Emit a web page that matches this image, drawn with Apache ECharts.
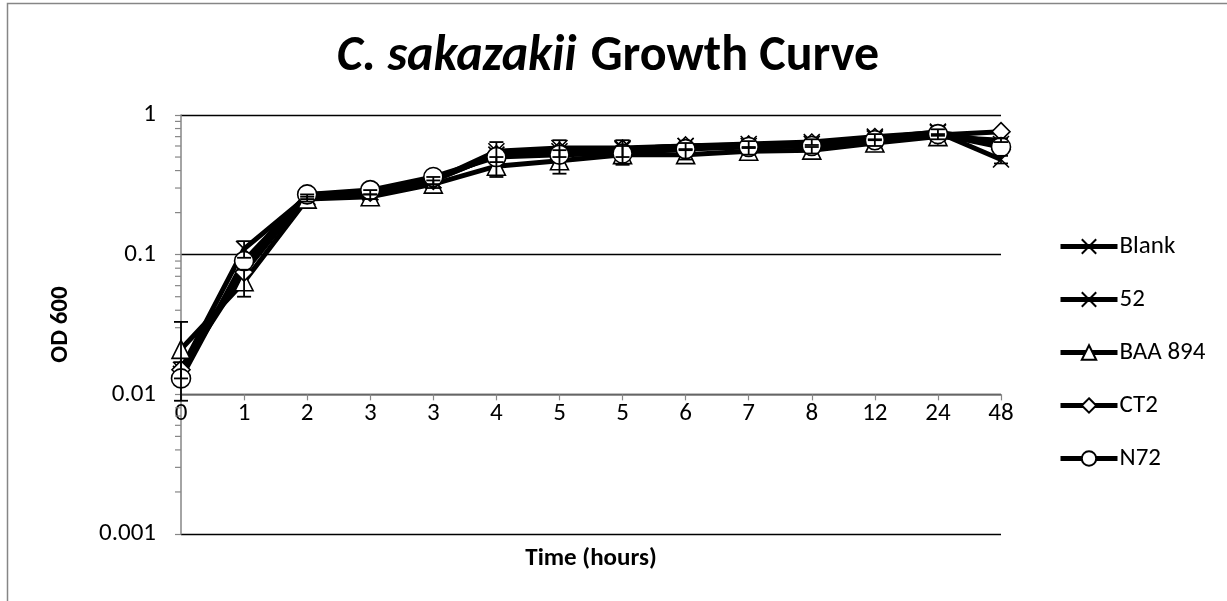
<!DOCTYPE html>
<html>
<head>
<meta charset="utf-8">
<script src="https://cdn.jsdelivr.net/npm/echarts@6/dist/echarts.min.js"></script>
<style>
  html, body { margin: 0; padding: 0; background: #fff; overflow: hidden; }
  #chart { width: 1227px; height: 601px; }
</style>
</head>
<body>
<div id="chart"></div>
<script>
// ---- data ----
const categories = ['0', '1', '2', '3', '3', '4', '5', '5', '6', '7', '8', '12', '24', '48'];
const blank  = [0.015, 0.110, 0.26, 0.28, 0.34, 0.55, 0.58, 0.58, 0.60, 0.62, 0.64, 0.70, 0.75, 0.48];
const s52    = [0.014, 0.085, 0.26, 0.28, 0.34, 0.52, 0.55, 0.57, 0.60, 0.60, 0.62, 0.68, 0.76, 0.62];
const baa894 = [0.021, 0.064, 0.25, 0.26, 0.32, 0.43, 0.47, 0.52, 0.52, 0.55, 0.56, 0.63, 0.70, 0.66];
const ct2    = [0.015, 0.075, 0.27, 0.28, 0.34, 0.52, 0.55, 0.57, 0.60, 0.61, 0.63, 0.69, 0.72, 0.76];
const n72    = [0.013, 0.090, 0.27, 0.29, 0.36, 0.50, 0.52, 0.53, 0.57, 0.59, 0.60, 0.66, 0.73, 0.59];
const blankErr  = [0.002, 0.015, 0.010, 0.010, 0.020, 0.09, 0.08, 0.08, 0.03, 0.03, 0.03, 0.03, 0.04, 0.03];
const baa894Err = [0.012, 0.014, 0.010, 0.010, 0.020, 0.07, 0.09, 0.08, 0.04, 0.03, 0.03, 0.03, 0.03, 0.02];
const yTickLabels = ['0.001', '0.01', '0.1', '1'];
const minorTickValues = [];
[0.001, 0.01, 0.1].forEach(function (d) { for (let k = 2; k <= 9; k++) minorTickValues.push(+(d * k).toPrecision(3)); });

const FONT = 'Carlito, "Open Sans", "Liberation Sans", sans-serif';
const AXIS_GRAY = '#868686';

const SYM_X = 'path://M0,0L10,10M10,0L0,10';
const SYM_DIAMOND = 'path://M5,0L10,5L5,10L0,5Z';

function lineSeries(name, data, symbol, size) {
  return {
    name: name,
    type: 'line',
    data: data,
    symbol: symbol,
    symbolSize: size,
    lineStyle: { color: '#000', width: 5 },
    itemStyle: { color: '#fff', borderColor: '#000', borderWidth: 1.6 },
    emphasis: { disabled: true },
    z: 3
  };
}

function errorSeries(values, errs) {
  return {
    type: 'custom',
    silent: true,
    clip: false,
    z: 4,
    data: values.map(function (v, i) { return [i, v - errs[i], v + errs[i]]; }),
    renderItem: function (params, api) {
      const lo = api.coord([api.value(0), api.value(1)]);
      const hi = api.coord([api.value(0), api.value(2)]);
      const w = 7;
      const st = { stroke: '#000', lineWidth: 1.8 };
      return {
        type: 'group',
        children: [
          { type: 'line', shape: { x1: lo[0], y1: lo[1], x2: hi[0], y2: hi[1] }, style: st },
          { type: 'line', shape: { x1: lo[0] - w, y1: lo[1], x2: lo[0] + w, y2: lo[1] }, style: st },
          { type: 'line', shape: { x1: hi[0] - w, y1: hi[1], x2: hi[0] + w, y2: hi[1] }, style: st }
        ]
      };
    }
  };
}

const minorTickSeries = {
  type: 'custom',
  silent: true,
  clip: false,
  z: 2,
  data: minorTickValues.map(function (v) { return [0, v]; }),
  renderItem: function (params, api) {
    const p = api.coord([0, api.value(1)]);
    return { type: 'line', shape: { x1: p[0] - 6, y1: p[1], x2: p[0], y2: p[1] }, style: { stroke: AXIS_GRAY, lineWidth: 1.2 } };
  }
};

const chart = echarts.init(document.getElementById('chart'));
const gridTop = 115, gridBottom = 67;
const gridH = 601 - gridTop - gridBottom;

chart.setOption({
  animation: false,
  backgroundColor: '#fff',
  textStyle: { fontFamily: FONT },
  graphic: [{
    type: 'rect',
    shape: { x: 7.5, y: 3.5, width: 1400, height: 800 },
    style: { fill: 'none', stroke: AXIS_GRAY, lineWidth: 1.5 },
    silent: true, z: -1
  }],
  title: {
    text: '{i|C. sakazakii}{s| }{b|Growth Curve}',
    left: 603, top: 27, textAlign: 'center',
    textStyle: {
      rich: {
        i: { fontFamily: FONT, fontSize: 50, fontWeight: 'bold', fontStyle: 'italic', color: '#000' },
        s: { fontFamily: FONT, fontSize: 50, width: 14 },
        b: { fontFamily: FONT, fontSize: 50, fontWeight: 'bold', color: '#000' }
      }
    }
  },
  legend: {
    orient: 'vertical',
    left: 1053, top: 229,
    itemWidth: 57, itemHeight: 18, itemGap: 28,
    data: ['Blank', '52', 'BAA 894', 'CT2', 'N72'],
    lineStyle: { width: 5, color: '#000' },
    textStyle: { fontFamily: FONT, fontSize: 25, color: '#000', padding: [0, 0, 0, -3] },
    selectedMode: false
  },
  grid: { left: 181, right: 226, top: gridTop, bottom: gridBottom, containLabel: false, outerBoundsMode: 'none' },
  xAxis: {
    type: 'category',
    data: categories,
    boundaryGap: false,
    position: 'bottom',
    offset: -gridH / 3,
    name: 'Time (hours)',
    nameLocation: 'middle',
    nameGap: 164,
    nameTextStyle: { fontFamily: FONT, fontSize: 25, fontWeight: 'bold', color: '#000', verticalAlign: 'middle' },
    axisLine: { lineStyle: { color: AXIS_GRAY, width: 1.5 } },
    axisTick: { show: true, length: 6, alignWithLabel: true, lineStyle: { color: AXIS_GRAY, width: 1.2 } },
    axisLabel: { fontFamily: FONT, fontSize: 25, color: '#000', margin: 7, interval: 0, showMinLabel: true, showMaxLabel: true, hideOverlap: false },
    splitLine: { show: false }
  },
  yAxis: {
    type: 'log',
    logBase: 10,
    min: 0.001,
    max: 1,
    name: 'OD 600',
    nameLocation: 'middle',
    nameGap: 108,
    nameRotate: 90,
    nameTextStyle: { fontFamily: FONT, fontSize: 25, fontWeight: 'bold', color: '#000' },
    axisLine: { show: true, lineStyle: { color: AXIS_GRAY, width: 1.5 } },
    axisTick: { show: true, length: 6, lineStyle: { color: AXIS_GRAY, width: 1.2 } },
    axisLabel: {
      fontFamily: FONT, fontSize: 25, color: '#000', margin: 25,
      formatter: function (v) {
        const e = Math.round(Math.log10(v));
        return yTickLabels[e + 3];
      }
    },
    splitLine: { show: true, lineStyle: { color: '#000', width: 1.3 } }
  },
  series: [
    minorTickSeries,
    lineSeries('Blank', blank, SYM_X, 16),
    lineSeries('52', s52, SYM_X, 16),
    lineSeries('BAA 894', baa894, 'triangle', 18),
    lineSeries('CT2', ct2, SYM_DIAMOND, 18),
    lineSeries('N72', n72, 'circle', 19),
    errorSeries(blank, blankErr),
    errorSeries(baa894, baa894Err)
  ]
});
</script>
</body>
</html>
